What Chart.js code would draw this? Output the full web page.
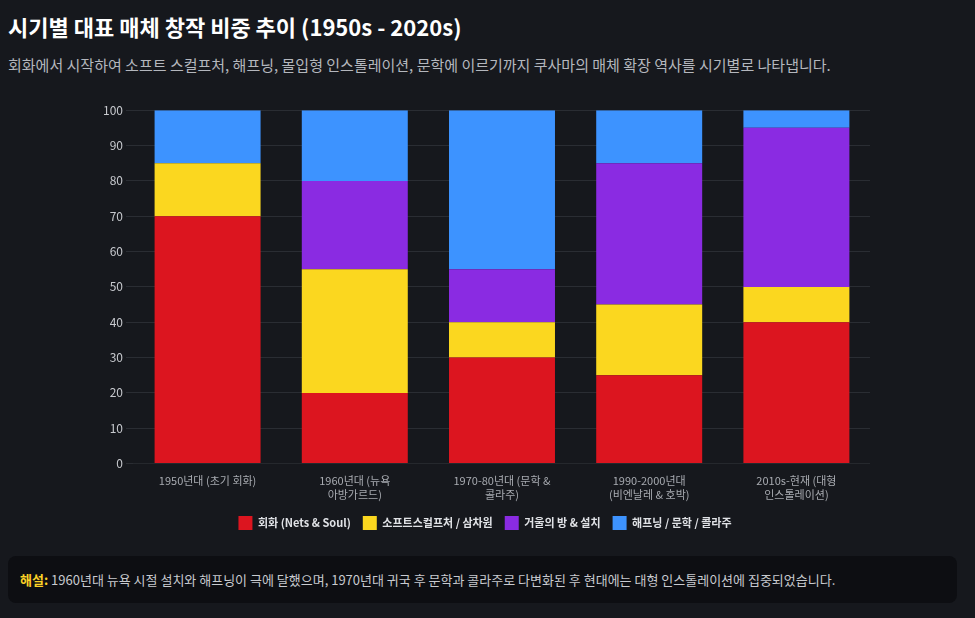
<!DOCTYPE html>
<html><head><meta charset="utf-8">
<script src="https://cdn.jsdelivr.net/npm/chart.js@4"></script>
<style>
body{margin:0;background:#16181d;font-family:"Noto Sans CJK KR","Noto Sans",sans-serif;color:#fff;width:975px;height:618px;overflow:hidden}
h1{margin:0;position:absolute;left:8px;top:10px;font-size:22px;font-weight:700}
.sub{position:absolute;left:8px;top:54px;font-size:15px;color:#b4b7bd}
.wrap{position:absolute;left:100px;top:100px;width:770px;height:440px}
.note{position:absolute;left:8px;top:556px;width:949px;height:47px;background:#0d0e12;border-radius:8px;box-sizing:border-box;padding:14px 12px;font-size:13px;color:#c8cacf}
.note b{color:#fcd227}
</style></head><body>
<h1>시기별 대표 매체 창작 비중 추이 (1950s - 2020s)</h1>
<div class="sub">회화에서 시작하여 소프트 스컬프처, 해프닝, 몰입형 인스톨레이션, 문학에 이르기까지 쿠사마의 매체 확장 역사를 시기별로 나타냅니다.</div>
<div class="wrap"><canvas id="c"></canvas></div>
<div class="note"><b>해설:</b> 1960년대 뉴욕 시절 설치와 해프닝이 극에 달했으며, 1970년대 귀국 후 문학과 콜라주로 다변화된 후 현대에는 대형 인스톨레이션에 집중되었습니다.</div>
<script>
var periods = [['1950년대 (초기 회화)'], ['1960년대 (뉴욕', '아방가르드)'], ['1970-80년대 (문학 &', '콜라주)'], ['1990-2000년대', '(비엔날레 & 호박)'], ['2010s-현재 (대형', '인스톨레이션)']];
var painting = [70, 20, 30, 25, 40];
var softSculpture = [15, 35, 10, 20, 10];
var mirrorRoom = [0, 25, 15, 40, 45];
var happening = [15, 20, 45, 15, 5];
var yTicks = [0, 10, 20, 30, 40, 50, 60, 70, 80, 90, 100];

Chart.defaults.font.family = '"Noto Sans CJK KR","Noto Sans",sans-serif';
Chart.defaults.color = '#b4b7bd';

new Chart(document.getElementById('c'), {
  type: 'bar',
  data: {
    labels: periods,
    datasets: [
      {label: '회화 (Nets & Soul)', data: painting, backgroundColor: '#dc151f'},
      {label: '소프트스컬프처 / 삼차원', data: softSculpture, backgroundColor: '#fbd71f'},
      {label: '거울의 방 & 설치', data: mirrorRoom, backgroundColor: '#8a2be2'},
      {label: '해프닝 / 문학 / 콜라주', data: happening, backgroundColor: '#3d93ff'}
    ]
  },
  options: {
    responsive: true, maintainAspectRatio: false, animation: false,
    datasets: {bar: {categoryPercentage: 0.8, barPercentage: 0.9}},
    scales: {
      x: {stacked: true, grid: {display: false}, ticks: {font: {size: 11}, color: '#a8abb1', maxRotation: 0}},
      y: {stacked: true, min: 0, max: 100, afterBuildTicks: function(a){a.ticks = yTicks.map(function(v){return {value: v};});},
          grid: {color: '#2a2d33'}, border: {display: false}, ticks: {font: {size: 12}, color: '#c8cacf'}}
    },
    plugins: {
      legend: {position: 'bottom', labels: {boxWidth: 14, boxHeight: 14, font: {size: 11, weight: 'bold'}, color: '#e0e2e6', padding: 12}},
      tooltip: {enabled: false}
    }
  }
});
</script>
</body></html>
